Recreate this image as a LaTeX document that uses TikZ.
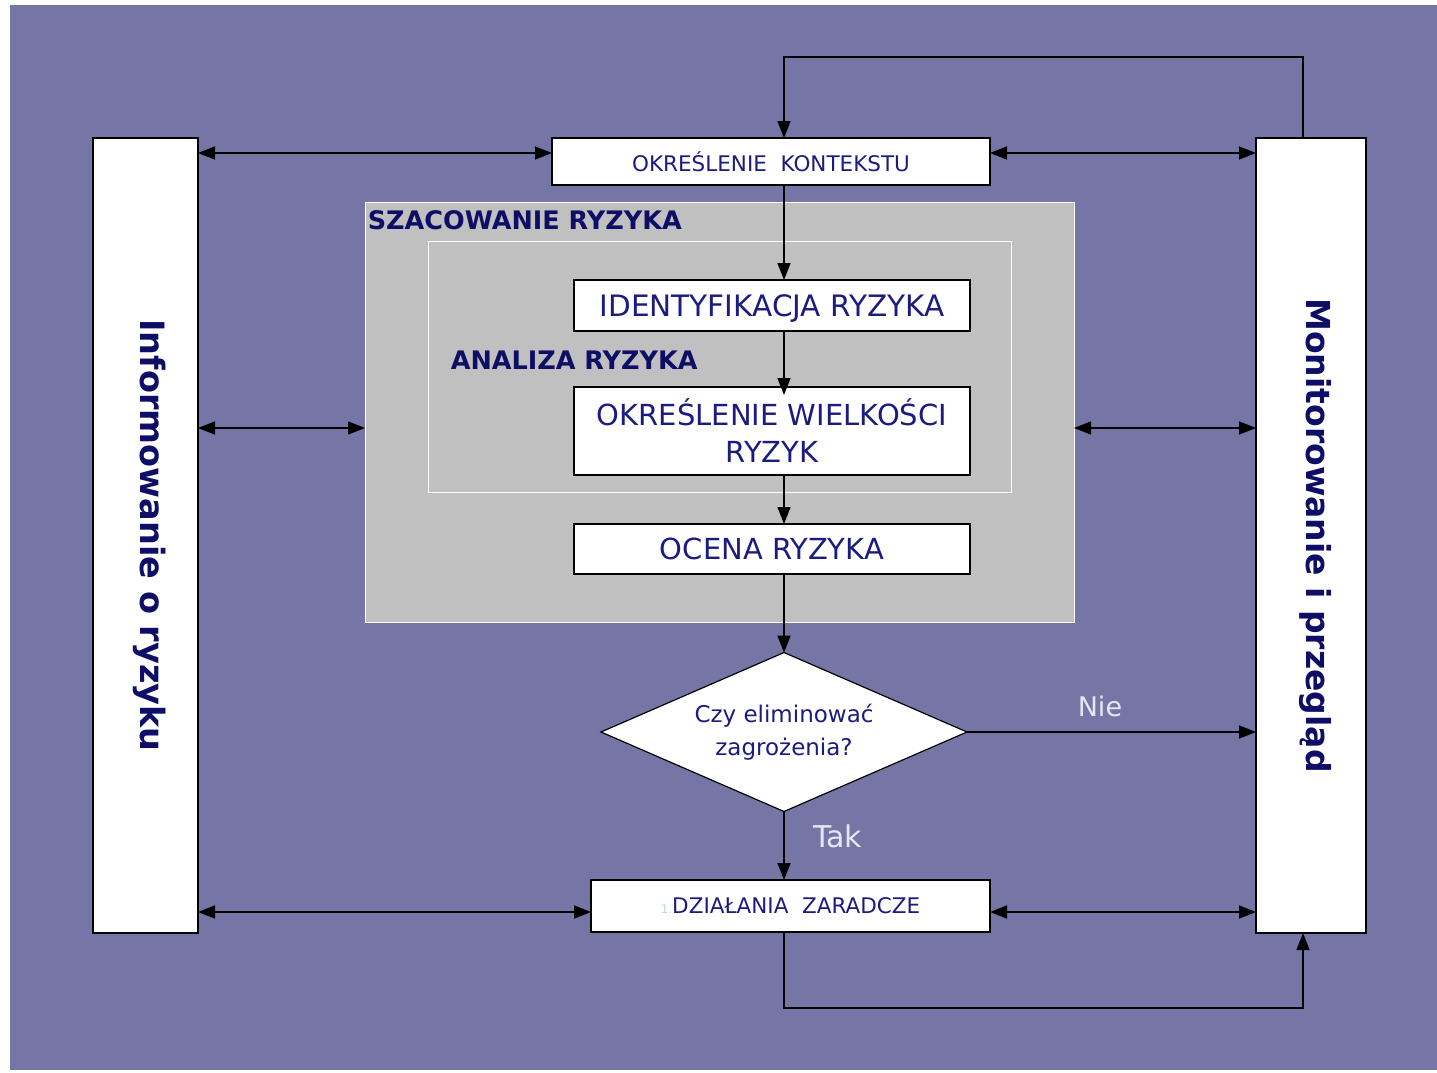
\documentclass[tikz,border=0pt]{standalone}
\usepackage{fontspec}
\setmainfont{DejaVu Sans}
\usepackage{tikz}
\usetikzlibrary{arrows.meta,shapes.geometric}

\definecolor{tlo}{HTML}{7575A6}
\definecolor{szary}{HTML}{C0C0C0}
\definecolor{granat}{HTML}{1C1C80}
\definecolor{ciemny}{HTML}{0E0E66}
\definecolor{jasny}{HTML}{E6E6F2}
\definecolor{blady}{HTML}{BFD8F0}

\begin{document}
\begin{tikzpicture}[
	x=1pt, y=-1pt,
	line width=1.6pt,
	arr/.style={-{Triangle[length=17pt, width=13pt]}},
	darr/.style={{Triangle[length=17pt, width=13pt]}-{Triangle[length=17pt, width=13pt]}},
	MyBox/.style={draw, fill=white, inner sep=0pt, outer sep=0pt, text=granat, align=center},
	SideBox/.style={MyBox, line width=1.2pt, minimum width=105pt, minimum height=795pt},
	Ramka/.style={draw=white, line width=1pt, fill=szary, inner sep=0pt, outer sep=0pt},
	Tytul/.style={text=ciemny, font=\fontsize{25.5}{30}\selectfont\bfseries, inner sep=0pt, anchor=west},
	Opis/.style={text=jasny, font=\fontsize{28}{30}\selectfont},
	]
	% tlo
	\fill[white] (0,0) rectangle (1437,1073);
	\fill[tlo] (10,5) rectangle (1437,1070);
	\useasboundingbox (0,0) rectangle (1437,1073);

	% boczne bloki
	\node [SideBox] (inform) at (145.5,535.5) {};
	\node [rotate=-90, text=ciemny, font=\fontsize{33.5}{36}\selectfont\bfseries] at ([xshift=4pt]inform) {Informowanie o ryzyku};
	\node [SideBox, minimum width=110pt] (monitor) at (1311,535.5) {};
	\node [rotate=-90, text=ciemny, font=\fontsize{33}{36}\selectfont\bfseries] at ([xshift=4pt]monitor) {Monitorowanie i przegląd};

	% szacowanie i analiza
	\node [Ramka, minimum width=709pt, minimum height=420pt] (szac) at (719.5,412) {};
	\node [Tytul] at (367,220) {SZACOWANIE RYZYKA};
	\node [Ramka, minimum width=583pt, minimum height=251pt] (analiza) at (719.5,366.5) {};
	\node [Tytul] at (450,360) {ANALIZA RYZYKA};

	% bloki glowne
	\node [MyBox, minimum width=438pt, minimum height=47pt, text depth=0pt, font=\fontsize{21.5}{24}\selectfont] (kontekst) at (771,161.5) {OKREŚLENIE\ \ KONTEKSTU};
	\node [MyBox, minimum width=396pt, minimum height=51pt, text depth=0pt, font=\fontsize{29.5}{34}\selectfont] (ident) at (772,305.5) {IDENTYFIKACJA RYZYKA};
	\node [MyBox, minimum width=396pt, minimum height=88pt, font=\fontsize{29}{37}\selectfont] (wielk) at (772,431) {OKREŚLENIE WIELKOŚCI\\RYZYK};
	\node [MyBox, minimum width=396pt, minimum height=50pt, text depth=0pt, font=\fontsize{29}{34}\selectfont] (ocena) at (772,549) {OCENA RYZYKA};
	\node [MyBox, diamond, aspect=2.3, line width=1.2pt, minimum width=366pt, minimum height=159pt, font=\fontsize{23}{33}\selectfont] (decyzja) at (784,732) {Czy eliminować\\zagrożenia?};
	\node [MyBox, minimum width=399pt, minimum height=52pt, text depth=0pt, font=\fontsize{21.5}{24}\selectfont] (dzialania) at (790.5,906) {{\color{blady}\fontsize{12}{12}\selectfont 1.}DZIAŁANIA\ \ ZARADCZE};

	\coordinate (kol) at (784,0);
	\coordinate (mx) at (1303,0);
	\coordinate (r1) at (0,153);
	\coordinate (r2) at (0,428);
	\coordinate (r3) at (0,912);

	% przeplyw
	\draw [arr] (monitor.north -| mx) -- ++(0,-81) -| (kontekst.north -| kol);
	\draw [arr] (kontekst.south -| kol) -- (ident.north -| kol);
	\draw [arr] (ident.south -| kol) -- ([yshift=-8pt]wielk.north -| kol);
	\draw [arr] (wielk.south -| kol) -- (ocena.north -| kol);
	\draw [arr] (ocena.south -| kol) -- (decyzja.north);
	\draw [arr] (decyzja.south) -- node[Opis, right=25pt, pos=0.36, font=\fontsize{30}{32}\selectfont] {Tak} (dzialania.north -| decyzja.south);
	\draw [arr] (decyzja.east) -- node[Opis, above=11pt, pos=0.46, font=\fontsize{27}{30}\selectfont] {Nie} (monitor.west |- decyzja.east);
	\draw [arr] (dzialania.south -| kol) -- ++(0,76) -| (monitor.south -| mx);

	% komunikacja
	\draw [darr] (inform.east |- r1) -- (kontekst.west |- r1);
	\draw [darr] (kontekst.east |- r1) -- (monitor.west |- r1);
	\draw [darr] (inform.east |- r2) -- (szac.west |- r2);
	\draw [darr] (szac.east |- r2) -- (monitor.west |- r2);
	\draw [darr] (inform.east |- r3) -- (dzialania.west |- r3);
	\draw [darr] (dzialania.east |- r3) -- (monitor.west |- r3);
\end{tikzpicture}
\end{document}
